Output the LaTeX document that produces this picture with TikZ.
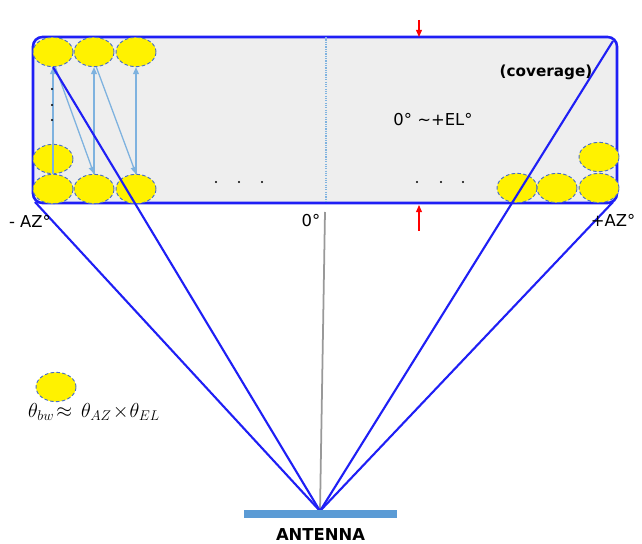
\documentclass[tikz,border=0pt]{standalone}
\usepackage{fontspec}
\setmainfont{DejaVu Sans}
\usetikzlibrary{shapes.geometric,arrows.meta,positioning}

\definecolor{edgeblue}{HTML}{1F1FF5}
\definecolor{beamdot}{HTML}{4A6FC8}
\definecolor{scanblue}{HTML}{7EB2DF}
\definecolor{antblue}{HTML}{5B9BD5}
\definecolor{covergray}{HTML}{EEEEEE}

\begin{document}
\begin{tikzpicture}[x=0.03cm,y=-0.03cm,
  beam/.style={ellipse,draw=beamdot,densely dashed,line width=0.8pt,fill=yellow,
    minimum width=1.2cm,minimum height=0.88cm,inner sep=0pt},
  scan/.style={draw=scanblue,line width=1.1pt,-{Triangle[length=6pt,width=5pt]}},
  ray/.style={draw=edgeblue,line width=1.8pt},
  redarrow/.style={draw=red,line width=0.9pt,-{Triangle[length=6pt,width=5pt]}},
  lbl/.style={font=\fontsize{14}{16}\selectfont,inner sep=0pt}]

  \useasboundingbox (0,0) rectangle (642,544);

  % Define the corners of the coverage area
  \coordinate (TL) at (33,37);
  \coordinate (BR) at (617,203);
  \coordinate (BL) at (35,202);
  \coordinate (TR) at (613,41);
  \coordinate (BRc) at (613,202);

  % Define the feed point of the antenna
  \coordinate (F) at (320,511);

  % Draw the coverage area
  \draw[edgeblue,fill=covergray,line width=2.2pt,rounded corners=8] (TL) rectangle (BR);

  % Draw the boresight (dotted inside, gray down to the antenna)
  \draw[scanblue,densely dotted,line width=1pt] (326,37) -- (326,203);
  \draw[gray!80,line width=1.5pt] (325,212) -- (F);

  % Draw the beams on the left
  \node[beam] (t1) at (53,52) {};
  \node[beam] (t2) at (94,52) {};
  \node[beam] (t3) at (136,52) {};
  \node[beam] (l2) at (53,159) {};
  \node[beam] (b1) at (53,189) {};
  \node[beam] (b2) at (94,189) {};
  \node[beam] (b3) at (136,189) {};

  % Draw the beams on the right
  \node[beam] (r1) at (517,188) {};
  \node[beam] (r2) at (557,188) {};
  \node[beam] (r3) at (599,188) {};
  \node[beam] (r4) at (599,157) {};

  % Draw the scan path
  \draw[scan] (b1.north) -- (t1.south);
  \draw[scan] ([xshift=2pt]t1.south) -- (b2.north);
  \draw[scan] (b2.north) -- (t2.south);
  \draw[scan] ([xshift=2pt]t2.south) -- (b3.north);
  \draw[scan] (b3.north) -- (t3.south);

  % Dots between the beams
  \foreach \y in {89,105,120} \fill (52,\y) circle (1.1);
  \foreach \x in {216,239,262,417,441,463} \fill (\x,182) circle (1.1);

  % Draw the rays from the antenna
  \draw[ray] (BL) -- (F);
  \draw[ray] (t1.south) -- (F);
  \draw[ray] (TR) -- (F);
  \draw[ray] (BRc) -- (F);

  % Red marks for the elevation range
  \coordinate (m1) at (419,20);
  \coordinate (m2) at (419,37);
  \coordinate (m3) at (419,231);
  \coordinate (m4) at (419,205);
  \draw[redarrow] (m1) -- (m2);
  \draw[redarrow] (m3) -- (m4);

  % Add labels
  \node[font=\bfseries\fontsize{13}{15}\selectfont] (cov) at (546,72) {(coverage)};
  \node[lbl] (el) at (433,120) {0° \textasciitilde+EL°};
  \node[lbl] (zero) at (311,221) {0°};
  \node[lbl] (azl) at (30,221) {- AZ°};
  \node[lbl] (azr) at (613,220) {+AZ°};

  % Draw the antenna
  \node[fill=antblue,minimum width=4.59cm,minimum height=0.24cm,inner sep=0pt] (ant) at (320.5,514) {};
  \node[font=\bfseries\fontsize{14}{16}\selectfont,below=5pt of ant] (antlbl) {ANTENNA};

  % Legend
  \node[beam] (leg) at (56,387) {};
  \node[font=\fontsize{17}{20}\selectfont,anchor=west,inner sep=0pt] (bw) at (28,412)
    {$\theta_{bw}\!\approx\,\theta_{AZ}\!\times\!\theta_{EL}$};

\end{tikzpicture}
\end{document}
